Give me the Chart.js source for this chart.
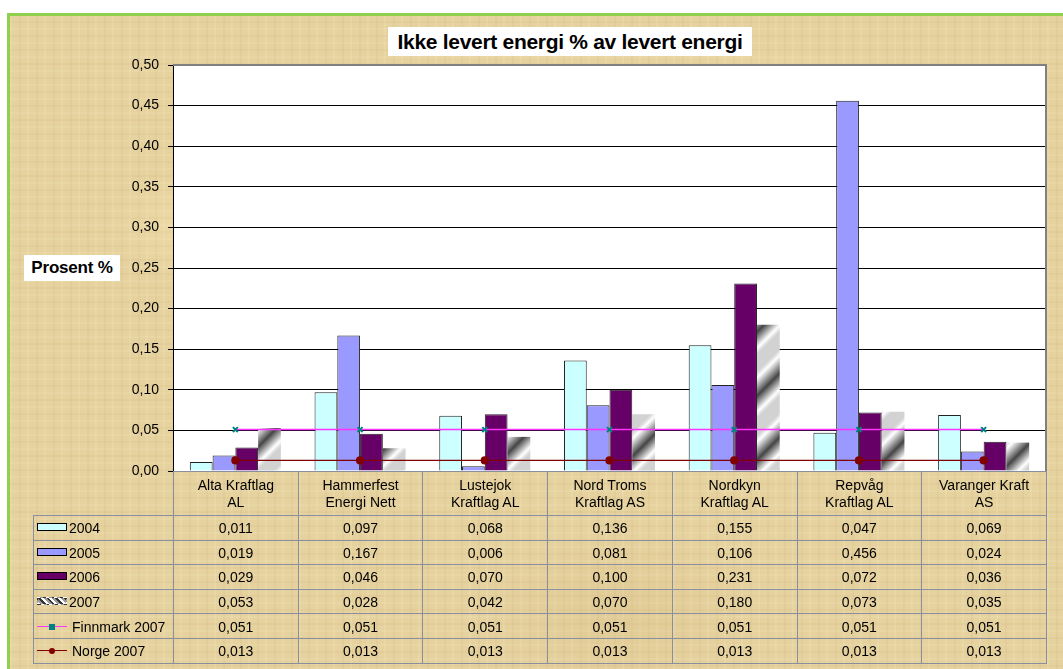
<!DOCTYPE html>
<html>
<head>
<meta charset="utf-8">
<script src="https://cdn.jsdelivr.net/npm/chart.js@4/dist/chart.umd.min.js"></script>
<style>
  html, body { margin: 0; padding: 0; background: #fff; }
  body { width: 1063px; height: 669px; position: relative; overflow: hidden;
         font-family: "Liberation Sans", Arial, sans-serif; }
  #frame {
    position: absolute; left: 7px; top: 13px; width: 1100px; height: 700px;
    border-left: 3px solid #8fd14f; border-top: 3px solid #8fd14f;
    background-color: #e6d29f;
    background-image:
      radial-gradient(ellipse 180px 90px at 20% 30%, rgba(255,240,190,0.35), rgba(255,240,190,0) 70%),
      radial-gradient(ellipse 220px 110px at 70% 15%, rgba(255,240,190,0.3), rgba(255,240,190,0) 70%),
      radial-gradient(ellipse 200px 120px at 55% 85%, rgba(200,170,110,0.18), rgba(200,170,110,0) 70%),
      repeating-linear-gradient(90deg, rgba(255,248,215,0.12) 0 2px, rgba(0,0,0,0) 2px 9px, rgba(160,120,60,0.06) 9px 11px, rgba(0,0,0,0) 11px 17px),
      repeating-linear-gradient(0deg, rgba(255,248,215,0.10) 0 2px, rgba(0,0,0,0) 2px 7px, rgba(160,120,60,0.06) 7px 9px, rgba(0,0,0,0) 9px 14px);
  }
  #chart { position: absolute; left: 0; top: 0; }
  #title {
    position: absolute; left: 388px; top: 27px; width: 364px; height: 29px;
    background: #fff; font-weight: bold; font-size: 21px; line-height: 30px;
    text-align: center; color: #000; letter-spacing: -0.3px; white-space: nowrap;
  }
  #ylabel {
    position: absolute; left: 24px; top: 255px; width: 96px; height: 26px;
    background: #fff; font-weight: bold; font-size: 17px; line-height: 26px;
    text-align: center; color: #000; letter-spacing: -0.2px;
  }
  #dtable {
    position: absolute; left: 33px; top: 471px; border-collapse: collapse;
    table-layout: fixed; width: 1013px; font-size: 14px; color: #000;
  }
  #dtable td { border: 1px solid #8a8fa0; text-align: center; padding: 0; }
  #dtable tr.head td { height: 42px; line-height: 17px; padding-top: 1px; }
  #dtable tr.row td { height: 22.6px; padding-top: 1px; line-height: 16px; }
  #dtable td.blank { border: none; }
  #dtable td.leg { text-align: left; white-space: nowrap; }
  .sw { display: inline-block; width: 28px; height: 6px; border: 1px solid #000;
        margin: 0 2px 0 3px; vertical-align: 2px; }
  .ln { display: inline-block; width: 30px; height: 8px; margin: 0 5px 0 3px;
        position: relative; vertical-align: 1px; }
  .ln i { position: absolute; left: 0; right: 0; top: 3px; height: 1px; }
  .ln b { position: absolute; left: 12px; top: 1px; width: 6px; height: 6px; }
</style>
</head>
<body>
<div id="frame"></div>
<canvas id="chart" width="1063" height="669"></canvas>
<div id="title">Ikke levert energi % av levert energi</div>
<div id="ylabel">Prosent %</div>
<table id="dtable"></table>

<script>
const companies = [
  ['Alta Kraftlag', 'AL'],
  ['Hammerfest', 'Energi Nett'],
  ['Lustejok', 'Kraftlag AL'],
  ['Nord Troms', 'Kraftlag AS'],
  ['Nordkyn', 'Kraftlag AL'],
  ['Repvåg', 'Kraftlag AL'],
  ['Varanger Kraft', 'AS'],
];
const v2004 = [0.011, 0.097, 0.068, 0.136, 0.155, 0.047, 0.069];
const v2005 = [0.019, 0.167, 0.006, 0.081, 0.106, 0.456, 0.024];
const v2006 = [0.029, 0.046, 0.070, 0.100, 0.231, 0.072, 0.036];
const v2007 = [0.053, 0.028, 0.042, 0.070, 0.180, 0.073, 0.035];
const finnmark2007 = [0.051, 0.051, 0.051, 0.051, 0.051, 0.051, 0.051];
const norge2007 = [0.013, 0.013, 0.013, 0.013, 0.013, 0.013, 0.013];
const yTicks = [0, 0.05, 0.10, 0.15, 0.20, 0.25, 0.30, 0.35, 0.40, 0.45, 0.50];

const fmt = (v) => v.toFixed(3).replace('.', ',');

// metallic diagonal fill, like the Excel gradient on the 2007 bars
function shade(t) {
  if (t < 0.25) return 70 + (t / 0.25) * 185;             // dark -> white after the sharp edge
  if (t < 0.35) return 255 - ((t - 0.25) / 0.1) * 45;     // white -> light gray
  if (t < 0.62) return 210;
  if (t < 0.72) return 210 + ((t - 0.62) / 0.1) * 45;     // light gray -> white
  return 255 - ((t - 0.72) / 0.28) * 185;                 // white -> dark up to the edge
}
function stripePattern() {
  const P = 64;
  const c = document.createElement('canvas');
  c.width = P; c.height = P;
  const g = c.getContext('2d');
  const img = g.createImageData(P, P);
  for (let y = 0; y < P; y++) {
    for (let x = 0; x < P; x++) {
      const v = Math.round(shade(((x + y) % P) / P));
      const i = (y * P + x) * 4;
      img.data[i] = v; img.data[i + 1] = v; img.data[i + 2] = v; img.data[i + 3] = 255;
    }
  }
  g.putImageData(img, 0, 0);
  return c;
}

const ctx = document.getElementById('chart').getContext('2d');
const stripes = ctx.createPattern(stripePattern(), 'repeat');

// white plot area + gray frame on top and right
const plotArea = {
  id: 'plotArea',
  beforeDraw(chart) {
    const a = chart.chartArea, c = chart.ctx;
    c.save();
    c.fillStyle = '#fff';
    c.fillRect(a.left, a.top, a.right - a.left, a.bottom - a.top);
    c.restore();
  },
  afterDraw(chart) {
    const a = chart.chartArea, c = chart.ctx;
    c.save();
    c.strokeStyle = '#808080';
    c.lineWidth = 2;
    c.beginPath();
    c.moveTo(a.left, a.top);
    c.lineTo(a.right, a.top);
    c.lineTo(a.right, a.bottom);
    c.stroke();
    c.restore();
  },
};

new Chart(ctx, {
  data: {
    labels: companies,
    datasets: [
      { type: 'bar', label: '2004', data: v2004, backgroundColor: '#ccffff', borderColor: '#222', borderWidth: 1, order: 2 },
      { type: 'bar', label: '2005', data: v2005, backgroundColor: '#9999ff', borderColor: '#222', borderWidth: 1, order: 2 },
      { type: 'bar', label: '2006', data: v2006, backgroundColor: '#660066', borderColor: '#222', borderWidth: 1, order: 2 },
      { type: 'bar', label: '2007', data: v2007, backgroundColor: stripes, borderWidth: 0, order: 2 },
      {
        type: 'line', label: 'Finnmark 2007', data: finnmark2007, order: 0,
        borderColor: '#ff33ff', borderWidth: 1.5, pointStyle: 'crossRot', pointRadius: 3.5,
        pointBorderColor: '#008080', pointBackgroundColor: '#008080', pointBorderWidth: 2,
      },
      {
        type: 'line', label: 'Norge 2007', data: norge2007, order: 1,
        borderColor: '#800000', borderWidth: 1.2, pointStyle: 'circle', pointRadius: 3.5,
        pointBorderColor: '#800000', pointBackgroundColor: '#800000',
      },
    ],
  },
  options: {
    responsive: false,
    animation: false,
    layout: { padding: { left: 0, top: 65, right: 17, bottom: 198 } },
    datasets: { bar: { categoryPercentage: 0.73, barPercentage: 1 } },
    plugins: { legend: { display: false }, tooltip: { enabled: false } },
    scales: {
      x: { display: false, offset: true },
      y: {
        min: 0, max: 0.5,
        afterFit(scale) { scale.width = 173; },
        afterBuildTicks(scale) { scale.ticks = yTicks.map((v) => ({ value: v })); },
        ticks: {
          color: '#000', padding: 9,
          font: { family: '"Liberation Sans", Arial, sans-serif', size: 14 },
          callback(v) { return v.toFixed(2).replace('.', ','); },
        },
        grid: { color: '#000', lineWidth: 1, tickLength: 5 },
        border: { color: '#000', width: 1 },
      },
    },
  },
  plugins: [plotArea],
});

// data table under the chart
const legendCells = [
  '<span class="sw" style="background:#ccffff"></span>2004',
  '<span class="sw" style="background:#9999ff"></span>2005',
  '<span class="sw" style="background:#660066"></span>2006',
  '<span class="sw" id="sw07" style="border-color:transparent"></span>2007',
  '<span class="ln"><i style="background:#ff33ff"></i><b style="background:#008080"></b></span>Finnmark 2007',
  '<span class="ln"><i style="background:#800000"></i><b style="background:#800000;border-radius:50%"></b></span>Norge 2007',
];
const rows = [v2004, v2005, v2006, v2007, finnmark2007, norge2007];
const colW = (1046 - 173) / companies.length;
let html = '<colgroup><col style="width:140px">' +
  companies.map(() => `<col style="width:${colW}px">`).join('') + '</colgroup>';
html += '<tr class="head"><td class="blank"></td>' +
  companies.map((c) => `<td>${c[0]}<br>${c[1]}</td>`).join('') + '</tr>';
rows.forEach((r, i) => {
  html += `<tr class="row"><td class="leg">${legendCells[i]}</td>` +
    r.map((v) => `<td>${fmt(v)}</td>`).join('') + '</tr>';
});
document.getElementById('dtable').innerHTML = html;
document.getElementById('sw07').style.background =
  'repeating-linear-gradient(45deg, #fff 0 2px, #999 2px 4px, #333 4px 6px)';
</script>
</body>
</html>
